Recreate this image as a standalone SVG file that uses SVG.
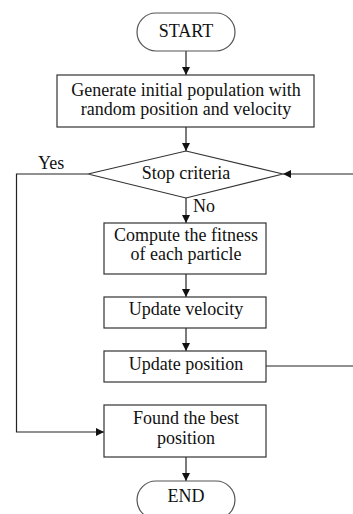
<svg xmlns="http://www.w3.org/2000/svg" width="353" height="514" viewBox="0 0 353 514">
<defs>
<marker id="arr" viewBox="0 0 10 10" refX="10" refY="5" markerWidth="8" markerHeight="8" markerUnits="userSpaceOnUse" orient="auto">
<path d="M0,0 L10,5 L0,10 z" fill="#111"/>
</marker>
<style>
.box{fill:#fff;stroke:#333;stroke-width:1.2}
.term{fill:#fff;stroke:#555;stroke-width:1.2}
.t{font-family:"Liberation Serif","Times New Roman",serif;font-size:18px;fill:#111;text-anchor:middle}
.lab{font-family:"Liberation Serif","Times New Roman",serif;font-size:18px;fill:#111}
.c{fill:none;stroke:#222;stroke-width:1.2}
</style>
</defs>
<rect width="353" height="514" fill="#fff"/>
<g id="connectors">
<path class="c" d="M186,51 V75" marker-end="url(#arr)"/>
<path class="c" d="M186,127 V151" marker-end="url(#arr)"/>
<path class="c" d="M186,198 V223" marker-end="url(#arr)"/>
<path class="c" d="M186,274 V297" marker-end="url(#arr)"/>
<path class="c" d="M186,328 V351" marker-end="url(#arr)"/>
<path class="c" d="M186,457 V481" marker-end="url(#arr)"/>
<path class="c" d="M88,174 H16.5 V432 H104" marker-end="url(#arr)"/>
<path class="c" d="M266,366 H353"/>
<path class="c" d="M353,174 H283" marker-end="url(#arr)"/>
<text class="lab" x="38" y="169">Yes</text>
<text class="lab" x="193" y="212">No</text>
</g>
<g id="start">
<rect class="term" x="137" y="13" width="98" height="38" rx="19"/>
<text class="t" x="186" y="37">START</text>
</g>
<g id="init">
<rect class="box" x="57" y="75" width="257" height="52"/>
<text class="t" x="186" y="96">Generate initial population with</text>
<text class="t" x="186" y="115">random position and velocity</text>
</g>
<g id="stop">
<polygon class="box" points="186,151 283,174 186,198 88,174"/>
<text class="t" x="186" y="179">Stop criteria</text>
</g>
<g id="fitness">
<rect class="box" x="104" y="223" width="162" height="51"/>
<text class="t" x="186" y="241">Compute the fitness</text>
<text class="t" x="186" y="260">of each particle</text>
</g>
<g id="velocity">
<rect class="box" x="104" y="297" width="162" height="31"/>
<text class="t" x="186" y="315">Update velocity</text>
</g>
<g id="position">
<rect class="box" x="104" y="351" width="162" height="31"/>
<text class="t" x="186" y="370">Update position</text>
</g>
<g id="best">
<rect class="box" x="104" y="405" width="162" height="52"/>
<text class="t" x="186" y="424">Found the best</text>
<text class="t" x="186" y="444">position</text>
</g>
<g id="end">
<rect class="term" x="137" y="481" width="98" height="38" rx="19"/>
<text class="t" x="186" y="502">END</text>
</g>
</svg>
